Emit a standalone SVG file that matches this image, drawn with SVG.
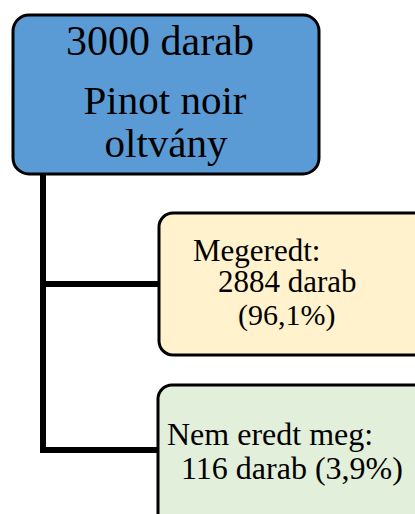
<svg xmlns="http://www.w3.org/2000/svg" width="415" height="514" viewBox="0 0 415 514">
<style>
.box{stroke:#000;stroke-width:3}
.conn{stroke:#000;stroke-width:6;fill:none}
</style>
<rect width="415" height="514" fill="#fff"/>
<g id="connectors">
<path class="conn" d="M43 174 V453 M40 284 H159 M40 450 H158"/>
</g>
<g font-family="Liberation Serif, serif" fill="#000">
<g id="root">
<rect class="box" x="13" y="15" width="306" height="159" rx="16" fill="#5b9bd5"/>
<text font-size="42" x="160" y="55" text-anchor="middle">3000 darab</text>
<text font-size="41" x="165" y="114" text-anchor="middle">Pinot noir</text>
<text font-size="41" x="166" y="157" text-anchor="middle">oltvány</text>
</g>
<g id="rooted">
<rect class="box" x="159" y="213" width="270" height="142" rx="14" fill="#fff2cc"/>
<text font-size="31" x="193" y="261">Megeredt:</text>
<text font-size="31" x="218" y="292">2884 darab</text>
<text font-size="30" x="238" y="325">(96,1%)</text>
</g>
<g id="notrooted">
<rect class="box" x="158" y="385" width="270" height="145" rx="14" fill="#e2efda"/>
<text font-size="32" x="167" y="445">Nem eredt meg:</text>
<text font-size="32" x="181" y="479">116 darab (3,9%)</text>
</g>
</g>
</svg>
